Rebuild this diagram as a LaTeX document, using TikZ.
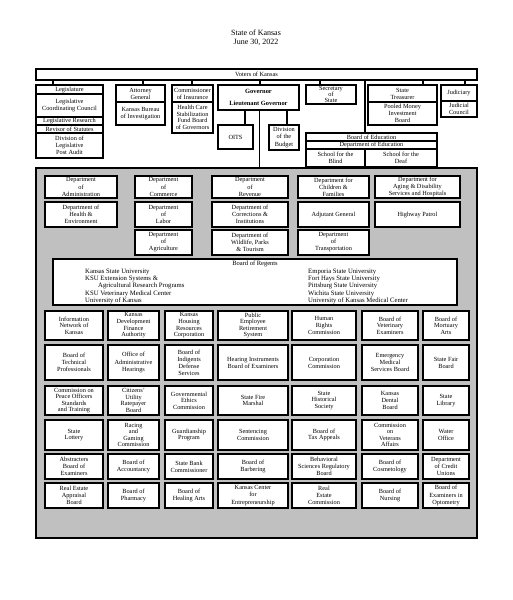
\documentclass[tikz,border=0pt]{standalone}
\usepackage{fontspec}
\setmainfont{Liberation Serif}
\definecolor{panelgray}{RGB}{192,192,192}
% column centres and widths of the agency grid
\def\colx{{74,133.5,189,253,324,390,446}}
\def\colw{{58,51,48,70,64,56,46}}

\begin{document}
\begin{tikzpicture}[x=1pt,y=-1pt,
    box/.style={draw,line width=1.2pt,fill=white,align=center,inner sep=0pt,
                font=\fontsize{6.3}{7.1}\selectfont},
    tight/.style={font=\fontsize{6.3}{6.6}\selectfont},
    sz/.style 2 args={minimum width=#1pt,minimum height=#2pt},
    govbox/.style={box,line width=1.8pt,font=\bfseries\fontsize{6.4}{7.4}\selectfont},
    link/.style={line width=1.2pt},
    panel/.style={draw,line width=1.2pt,fill=panelgray},
    list/.style={anchor=north west,align=left,inner sep=0pt,font=\fontsize{6.7}{7.3}\selectfont}]
  \useasboundingbox (0,0) rectangle (512,600);
  \node[align=center,font=\fontsize{8}{9.4}\selectfont] (title) at (256,37.5) {State of Kansas\\June 30, 2022};
  \node[box,sz={441}{11}] (voters) at (256.5,74.5) {Voters of Kansas};

  % elected offices
  \node[box,sz={67}{9}] (leg) at (69.5,89.5) {Legislature};
  \node[box,sz={67}{23}] (lcc) at (69.5,105.5) {Legislative\\Coordinating Council};
  \node[box,sz={67}{8}] (lres) at (69.5,121) {Legislative Research};
  \node[box,sz={67}{8}] (rev) at (69.5,129) {Revisor of Statutes};
  \node[box,sz={67}{25}] (lpa) at (69.5,145.5) {Division of\\Legislative\\Post Audit};
  \node[box,sz={49}{17}] (ag) at (140.5,93.5) {Attorney\\General};
  \node[box,sz={49}{23}] (kbi) at (140.5,113.5) {Kansas Bureau\\of Investigation};
  \node[box,sz={41}{17}] (ins) at (192.5,93.5) {Commissioner\\of Insurance};
  \node[box,tight,sz={41}{31}] (hcs) at (192.5,117.5) {Health Care\\Stabilization\\Fund Board\\of Governors};
  \node[govbox,sz={81}{25}] (gov) at (258.5,97.5) {Governor\\[4.5pt]Lieutenant Governor};
  \node[box,sz={35}{24}] (oits) at (235.5,137) {OITS};
  \node[box,sz={30}{25}] (dob) at (284,137.5) {Division\\of the\\Budget};
  \node[box,sz={50}{19},font=\fontsize{6.3}{6.1}\selectfont] (sos) at (331,94.5) {Secretary\\of\\State};
  \node[box,sz={69}{17}] (tre) at (402.5,93.5) {State\\Treasurer};
  \node[box,sz={69}{23}] (pmib) at (402.5,113.5) {Pooled Money\\Investment\\Board};
  \node[box,sz={36}{16}] (jud) at (459,93) {Judiciary};
  \node[box,sz={36}{16}] (jc) at (459,109) {Judicial\\Council};
  \node[box,sz={131}{8}] (boe) at (371.5,137) {Board of Education};
  \node[box,sz={131}{8}] (doe) at (371.5,145) {Department of Education};
  \node[box,sz={59}{18}] (sfb) at (335.5,158) {School for the\\Blind};
  \node[box,sz={72}{18}] (sfd) at (401,158) {School for the\\Deaf};

  \foreach \n/\dx in {leg/-16.5,ag/2.5,ins/-0.5,gov/1.5,sos/-11,tre/20.5,jud/6,boe/-6.5}
    \draw[link] ([xshift=\dx pt]\n.north) -- ([xshift=\dx pt]\n.north |- voters.south);
  \draw[link] ([xshift=9.5pt]oits.north) -- ([xshift=9.5pt]oits.north |- gov.south);
  \draw[link] ([xshift=3pt]dob.north) -- ([xshift=3pt]dob.north |- gov.south);

  % executive branch
  \node[panel,sz={441}{370}] (panel) at (256.5,353) {};
  \draw[link] ([xshift=1pt]gov.south) -- ([xshift=1pt]gov.south |- panel.north);

  \node[box,sz={72}{22}] (dadm) at (81,187) {Department\\of\\Administration};
  \node[box,sz={57}{22}] (dcom) at (163.5,187) {Department\\of\\Commerce};
  \node[box,sz={76}{22}] (drev) at (250,187) {Department\\of\\Revenue};
  \node[box,sz={71}{22}] (dcf) at (333.5,187) {Department for\\Children \&\\Families};
  \node[box,sz={85}{22}] (kdads) at (417.5,187) {Department for\\Aging \& Disability\\Services and Hospitals};
  \node[box,sz={72}{25}] (kdhe) at (81,214.5) {Department of\\Health \&\\Environment};
  \node[box,sz={57}{25}] (dol) at (163.5,214.5) {Department\\of\\Labor};
  \node[box,sz={76}{25}] (kdoc) at (250,214.5) {Department of\\Corrections \&\\Institutions};
  \node[box,sz={71}{25}] (adj) at (333.5,214.5) {Adjutant General};
  \node[box,sz={85}{25}] (khp) at (417.5,214.5) {Highway Patrol};
  \node[box,sz={57}{25}] (kda) at (163.5,242.5) {Department\\of\\Agriculture};
  \node[box,sz={76}{25}] (kdwpt) at (250,242.5) {Department of\\Wildlife, Parks\\\& Tourism};
  \node[box,sz={71}{25}] (kdot) at (333.5,242.5) {Department\\of\\Transportation};

  \node[box,sz={404}{46}] (kbor) at (255,282) {};
  \node[font=\fontsize{6.5}{7.3}\selectfont,anchor=north,inner sep=0pt] (kbort) at (255,261) {Board of Regents};
  \node[list] (kborl) at (85,268.5) {Kansas State University\\KSU Extension Systems \&\\\hspace*{13pt}Agricultural Research Programs\\KSU Veterinary Medical Center\\University of Kansas};
  \node[list] (kborr) at (308,268.5) {Emporia State University\\Fort Hays State University\\Pittsburg State University\\Wichita State University\\University of Kansas Medical Center};

  % boards, commissions and agencies
  \foreach \t [count=\c] in {{Information\\Network of\\Kansas},{Kansas\\Development\\Finance\\Authority},
      {Kansas\\Housing\\Resources\\Corporation},{Public\\Employee\\Retirement\\System},{Human\\Rights\\Commission},
      {Board of\\Veterinary\\Examiners},{Board of\\Mortuary\\Arts}}{
    \pgfmathsetmacro\cx{\colx[\c-1]}\pgfmathsetmacro\cw{\colw[\c-1]}
    \node[box,tight,sz={\cw}{29}] (ra\c) at (\cx,325.5) {\t};}
  \foreach \t [count=\c] in {{Board of\\Technical\\Professionals},{Office of\\Administrative\\Hearings},
      {Board of\\Indigents\\Defense\\Services},{Hearing Instruments\\Board of Examiners},{Corporation\\Commission},
      {Emergency\\Medical\\Services Board},{State Fair\\Board}}{
    \pgfmathsetmacro\cx{\colx[\c-1]}\pgfmathsetmacro\cw{\colw[\c-1]}
    \node[box,sz={\cw}{35}] (rb\c) at (\cx,362.5) {\t};}
  \foreach \t [count=\c] in {{Commission on\\Peace Officers\\Standards\\and Training},{Citizens'\\Utility\\Ratepayer\\Board},
      {Governmental\\Ethics\\Commission},{State Fire\\Marshal},{State\\Historical\\Society},
      {Kansas\\Dental\\Board},{State\\Library}}{
    \pgfmathsetmacro\cx{\colx[\c-1]}\pgfmathsetmacro\cw{\colw[\c-1]}
    \node[box,tight,sz={\cw}{29}] (rc\c) at (\cx,400.5) {\t};}
  \foreach \t [count=\c] in {{State\\Lottery},{Racing\\and\\Gaming\\Commission},
      {Guardianship\\Program},{Sentencing\\Commission},{Board of\\Tax Appeals},
      {Commission\\on\\Veterans\\Affairs},{Water\\Office}}{
    \pgfmathsetmacro\cx{\colx[\c-1]}\pgfmathsetmacro\cw{\colw[\c-1]}
    \node[box,tight,sz={\cw}{30}] (rd\c) at (\cx,435) {\t};}
  \foreach \t [count=\c] in {{Abstracters\\Board of\\Examiners},{Board of\\Accountancy},
      {State Bank\\Commissioner},{Board of\\Barbering},{Behavioral\\Sciences Regulatory\\Board},
      {Board of\\Cosmetology},{Department\\of Credit\\Unions}}{
    \pgfmathsetmacro\cx{\colx[\c-1]}\pgfmathsetmacro\cw{\colw[\c-1]}
    \node[box,sz={\cw}{25}] (re\c) at (\cx,466.5) {\t};}
  \foreach \t [count=\c] in {{Real Estate\\Appraisal\\Board},{Board of\\Pharmacy},
      {Board of\\Healing Arts},{Kansas Center\\for\\Entrepreneurship},{Real\\Estate\\Commission},
      {Board of\\Nursing},{Board of\\Examiners in\\Optometry}}{
    \pgfmathsetmacro\cx{\colx[\c-1]}\pgfmathsetmacro\cw{\colw[\c-1]}
    \node[box,sz={\cw}{25}] (rf\c) at (\cx,495.5) {\t};}
\end{tikzpicture}
\end{document}
